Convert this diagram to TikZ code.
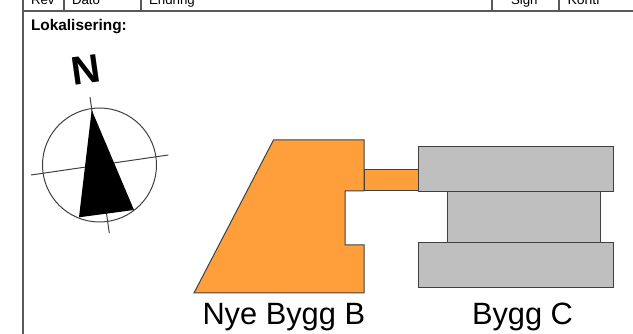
\documentclass[tikz,border=0pt]{standalone}
\usepackage{fontspec}
\setmainfont{Liberation Sans}
\definecolor{byggorange}{HTML}{FF9F3C}
\definecolor{bygggrey}{HTML}{BFBFBF}
\tikzset{
  lbl/.style={anchor=base west, inner sep=0pt, outer sep=0pt},
  wall/.style={draw=black!75, line width=1pt},
  frame/.style={draw=black!65, line width=1.2pt}
}
\begin{document}
\begin{tikzpicture}[x=1pt,y=-1pt]
\useasboundingbox (0,0) rectangle (633,334);

\draw[frame] (23,0) -- (23,334);
\draw[frame] (23,11) -- (633,11);
\draw[frame] (64,0) -- (64,11);
\draw[frame] (141,0) -- (141,11);
\draw[frame] (492,0) -- (492,11);
\draw[frame] (559,0) -- (559,11);

\node[lbl, font=\fontsize{13.3}{15}\selectfont] (rev) at (31,5) {Rev};
\node[lbl, font=\fontsize{13.3}{15}\selectfont] (dato) at (72,5) {Dato};
\node[lbl, font=\fontsize{13.3}{15}\selectfont] (endring) at (149,5) {Endring};
\node[lbl, font=\fontsize{13.3}{15}\selectfont] (sign) at (511,5) {Sign};
\node[lbl, font=\fontsize{14}{15}\selectfont] (kontr) at (567.5,5) {Kontr};
\node[lbl, font=\fontsize{15.4}{18}\bfseries] (lok) at (31,31) {Lokalisering:};

\node[font=\fontsize{40}{42}\bfseries, inner sep=0pt, rotate=8] (north) at (86,70) {N};

\draw[wall] (99.5,165) circle (57);
\draw[wall] (90,97) -- (109.3,233);
\draw[wall] (31,175) -- (168.3,155);
\fill[black] (91.7,110) -- (134,210) -- (79,217.3) -- cycle;

\draw[wall, fill=byggorange] (364,170) -- (418.5,170) -- (418.5,191) -- (364,191) -- cycle;
\draw[wall, fill=byggorange] (273.5,140) -- (364,140) -- (364,191) -- (345,191) -- (345,245) -- (364,245) -- (364,293) -- (194,293) -- cycle;

\draw[wall, fill=bygggrey] (447,191.5) rectangle (600,243);
\draw[wall, fill=bygggrey] (418.5,147) rectangle (613.5,191.5);
\draw[wall, fill=bygggrey] (418.5,243) rectangle (613.5,288);

\node[lbl, font=\fontsize{30.8}{34}\selectfont] (byggb) at (202.5,325) {Nye Bygg B};
\node[lbl, font=\fontsize{30.8}{34}\selectfont] (byggc) at (472,325) {Bygg C};
\end{tikzpicture}
\end{document}
